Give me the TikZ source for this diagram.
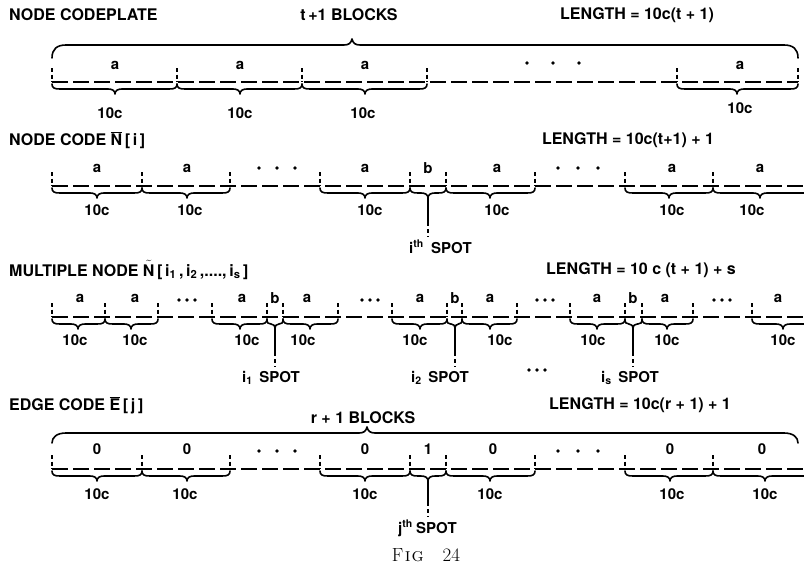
\documentclass[tikz,border=0pt]{standalone}
\usepackage{fontspec}
\newfontfamily\lettering{TeX Gyre Heros}

% brace opening upward under a block: start x, end x, tip x, top y
\newcommand{\lowbrace}[4]{%
  \pgfmathsetmacro\brr{min(8,(#2-#1)/4)}%
  \pgfmathsetmacro\brt{min(7,(#2-#1)/4)}%
  \draw[brc] (#1,#4) .. controls (#1,#4+4) and (#1+0.3*\brr,#4+5) .. (#1+\brr,#4+5)
    -- (#3-\brt,#4+5) .. controls (#3-0.4*\brt,#4+5) and (#3,#4+6.5) .. (#3,#4+10)
    .. controls (#3,#4+6.5) and (#3+0.4*\brt,#4+5) .. (#3+\brt,#4+5)
    -- (#2-\brr,#4+5) .. controls (#2-0.3*\brr,#4+5) and (#2,#4+4) .. (#2,#4);
}
% long brace over a whole code: start x, end x, tip x, end y, line y, tip y
\newcommand{\highbrace}[6]{%
  \draw[brc] (#1,#4) .. controls (#1,#5+4) and (#1+5,#5) .. (#1+14,#5)
    -- (#3-8,#5) .. controls (#3-3,#5) and (#3-1,#5-2) .. (#3,#6)
    .. controls (#3+1,#5-2) and (#3+3,#5) .. (#3+8,#5)
    -- (#2-14,#5) .. controls (#2-5,#5) and (#2,#5+4) .. (#2,#4);
}
% three dots, centre x, y, spacing
\newcommand{\threedots}[3]{%
  \foreach \dd in {-1,0,1} \fill (#1+\dd*#3,#2) circle (1.9);
}
% letter with a bar over it
\newcommand{\barred}[1]{\ensuremath{\overline{\hbox{#1}}}}

\tikzset{
  lbl/.style={font=\lettering\bfseries\fontsize{15}{15}\selectfont, inner sep=0pt},
  big/.style={font=\lettering\bfseries\fontsize{16}{16}\selectfont, inner sep=0pt},
  title/.style={big, anchor=west},
  base/.style={line width=1.6pt, dash pattern=on 16pt off 5pt},
  tick/.style={line width=1.4pt, dash pattern=on 4pt off 2.5pt},
  brc/.style={line width=1.6pt, line cap=round, line join=round},
  spotsolid/.style={line width=1.5pt},
  spotdash/.style={line width=1.5pt, dash pattern=on 4pt off 3pt},
}

\begin{document}
\begin{tikzpicture}[x=1pt,y=-1pt]
\useasboundingbox (0,0) rectangle (804,573);
\clip (0,0) rectangle (804,573);

% ---------------- node codeplate ----------------
\node[title] (t1) at (9,15) {NODE CODEPLATE};
\node[big] (blk1) at (349,15) {t\,+1 BLOCKS};
\node[big] (len1) at (637,15) {LENGTH = 10c(t + 1)};
\highbrace{52}{798}{352}{58}{45}{39}
\draw[base] (52,82) -- (798,82);
\foreach \x in {52,177,302,427,677,798} \draw[tick] (\x,68) -- (\x,82);
\foreach \x [count=\i] in {115,240,365,740} \node[lbl] (r1a\i) at (\x,65) {a};
\threedots{553}{63}{26}
\lowbrace{52}{177}{115}{84}
\lowbrace{177}{302}{240}{84}
\lowbrace{302}{427}{365}{84}
\lowbrace{677}{798}{737}{84}
\foreach \x [count=\i] in {110,240,363} \node[lbl] (r1c\i) at (\x,113) {10c};
\node[lbl] (r1c4) at (740,108) {10c};

% ---------------- node code ----------------
\node[title] (t2) at (9,140) {NODE CODE \barred{N}\,[\,i\,]};
\node[big] (len2) at (628,140) {LENGTH = 10c(t+1) + 1};
\draw[base] (52,186) -- (804,186);
\foreach \x in {52,142,230,320,410,446,535,625,713} \draw[tick] (\x,172) -- (\x,186);
\foreach \x [count=\i] in {97,187,365,497,672,760} \node[lbl] (r2a\i) at (\x,168) {a};
\node[lbl] (r2b) at (428,168) {b};
\threedots{277}{168}{18}
\threedots{578}{168}{20}
\lowbrace{52}{142}{97}{188}
\lowbrace{142}{230}{187}{188}
\lowbrace{320}{410}{365}{188}
\lowbrace{410}{446}{428}{188}
\lowbrace{446}{535}{490}{188}
\lowbrace{625}{713}{669}{188}
\lowbrace{713}{822}{760}{188}
\foreach \x [count=\i] in {97,190,370,497,672,752} \node[lbl] (r2c\i) at (\x,210) {10c};
\node[lbl, anchor=base east] (r2ith) at (424,253) {i\textsuperscript{th}};
\node[lbl, anchor=base west] (r2spot) at (431,253) {SPOT};
\coordinate (r2tip) at (428,198);
\coordinate (r2mid) at (428,222);
\coordinate (r2end) at (428,237);
\draw[spotsolid] (r2tip) -- (r2mid);
\draw[spotdash] (r2mid) -- (r2end);

% ---------------- multiple node ----------------
\node[title] (t3) at (9,270) {MULTIPLE NODE \ensuremath{\tilde{\hbox{N}}}\,[\,i\textsubscript{1}\,,\,i\textsubscript{2}\,,....,\,i\textsubscript{s}\,]};
\node[big] (len3) at (641,270) {LENGTH = 10 c (t + 1) + s};
\draw[base] (52,317) -- (804,317);
\foreach \x in {52,105,158,212,267,283,338,392,447,462,517,570,625,642,693,752}
  \draw[tick] (\x,303) -- (\x,317);
\foreach \x [count=\i] in {80,135,242,307,420,490,597,665,778} \node[lbl] (r3a\i) at (\x,298) {a};
\foreach \x [count=\i] in {275,455,633} \node[lbl] (r3b\i) at (\x,298) {b};
\threedots{187}{300}{8}
\threedots{370}{300}{8}
\threedots{545}{300}{8}
\threedots{722}{300}{8}
\lowbrace{52}{105}{78}{319}
\lowbrace{105}{158}{131}{319}
\lowbrace{212}{267}{240}{319}
\lowbrace{267}{283}{275}{319}
\lowbrace{283}{338}{310}{319}
\lowbrace{392}{447}{420}{319}
\lowbrace{447}{462}{455}{319}
\lowbrace{462}{517}{490}{319}
\lowbrace{570}{625}{597}{319}
\lowbrace{625}{642}{633}{319}
\lowbrace{642}{693}{667}{319}
\lowbrace{752}{815}{783}{319}
\foreach \x [count=\i] in {75,135,247,303,415,500,593,667,783} \node[lbl] (r3c\i) at (\x,340) {10c};
\node[lbl] (sp1) at (271,378) {i\textsubscript{1}\, SPOT};
\node[lbl] (sp2) at (440,378) {i\textsubscript{2}\, SPOT};
\node[lbl] (sp3) at (630,378) {i\textsubscript{s}\, SPOT};
\threedots{537}{370}{8}
\foreach \x [count=\i] in {275,455,633} {
  \coordinate (r3tip\i) at (\x,329);
  \coordinate (r3mid\i) at (\x,352);
  \coordinate (r3end\i) at (\x,367);
  \draw[spotsolid] (r3tip\i) -- (r3mid\i);
  \draw[spotdash] (r3mid\i) -- (r3end\i);
}

% ---------------- edge code ----------------
\node[title] (t4) at (9,405) {EDGE CODE \barred{E}\,[\,j\,]};
\node[big] (blk4) at (363,418) {r + 1 BLOCKS};
\node[big] (len4) at (640,405) {LENGTH = 10c(r + 1) + 1};
\highbrace{52}{798}{367}{443}{433}{427}
\draw[base] (52,469) -- (804,469);
\foreach \x in {52,142,230,320,410,446,535,625,713} \draw[tick] (\x,455) -- (\x,469);
\foreach \x [count=\i] in {97,187,365,493,670,762} \node[lbl] (r4z\i) at (\x,449) {0};
\node[lbl] (r4one) at (428,449) {1};
\threedots{277}{451}{18}
\threedots{578}{451}{20}
\lowbrace{52}{142}{97}{471}
\lowbrace{142}{230}{187}{471}
\lowbrace{320}{410}{365}{471}
\lowbrace{410}{446}{428}{471}
\lowbrace{446}{535}{490}{471}
\lowbrace{625}{713}{670}{471}
\lowbrace{713}{822}{765}{471}
\foreach \x [count=\i] in {97,185,365,490,672,765} \node[lbl] (r4c\i) at (\x,494) {10c};
\node[lbl, anchor=base east] (r4jth) at (413,533) {j\textsuperscript{th}};
\node[lbl, anchor=base west] (r4spot) at (416,533) {SPOT};
\coordinate (r4tip) at (428,481);
\coordinate (r4mid) at (428,502);
\coordinate (r4end) at (428,517);
\draw[spotsolid] (r4tip) -- (r4mid);
\draw[spotdash] (r4mid) -- (r4end);

% ---------------- caption ----------------
\node[inner sep=0pt, font=\fontsize{19}{19}\selectfont] (cap) at (426,555) {F\kern1.5pt\textsc{i\kern1pt g}\quad 24};
\end{tikzpicture}
\end{document}
